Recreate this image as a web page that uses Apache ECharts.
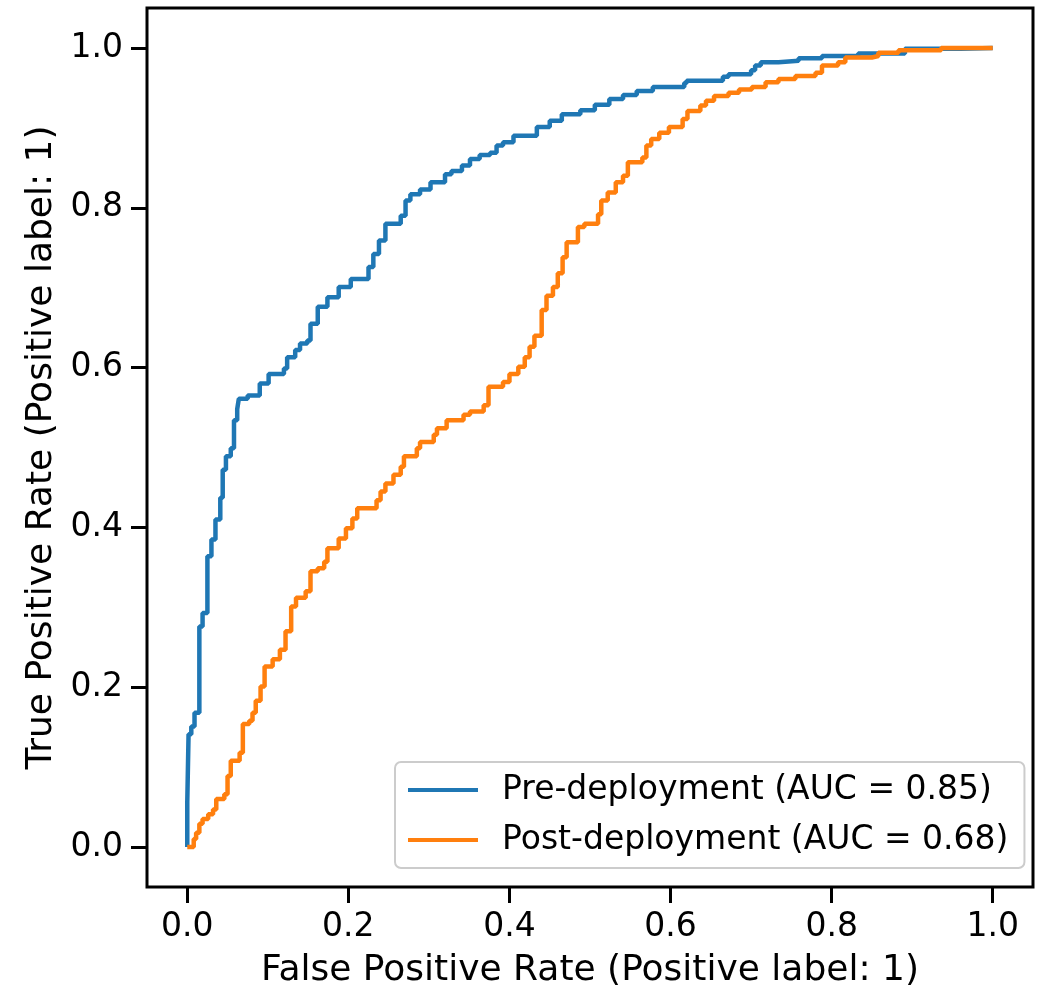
<!DOCTYPE html>
<html>
<head>
<meta charset="utf-8">
<script src="https://cdn.jsdelivr.net/npm/echarts@6/dist/echarts.min.js"></script>
<style>
  html, body { margin: 0; padding: 0; background: #fff; }
  #main { width: 1051px; height: 989px; }
</style>
</head>
<body>
<div id="main"></div>
<script>
// ROC curves: fpr where tpr steps up, and the tpr after the step
var preName = 'Pre-deployment (AUC = 0.85)';
var postName = 'Post-deployment (AUC = 0.68)';

var preFpr = [0, 0, 0.0016, 0.005, 0.009, 0.015, 0.019, 0.025, 0.030, 0.035, 0.041, 0.044, 0.048, 0.054,
    0.058, 0.062, 0.064, 0.075, 0.090, 0.101, 0.120, 0.124, 0.134, 0.140, 0.149, 0.153, 0.162, 0.174,
    0.188, 0.203, 0.225, 0.231, 0.238, 0.246, 0.265, 0.271, 0.277, 0.289, 0.302, 0.320, 0.328, 0.341,
    0.351, 0.363, 0.376, 0.384, 0.392, 0.405, 0.434, 0.450, 0.465, 0.488, 0.506, 0.524, 0.541, 0.558,
    0.578, 0.617, 0.620, 0.665, 0.672, 0.700, 0.705, 0.712, 0.734, 0.759, 0.788, 0.833, 0.891, 0.960, 1.0];
var preTpr = [0, 0.056, 0.141, 0.151, 0.168, 0.276, 0.293, 0.364, 0.385, 0.410, 0.437, 0.472, 0.489, 0.499,
    0.534, 0.548, 0.561, 0.565, 0.580, 0.592, 0.599, 0.613, 0.622, 0.630, 0.634, 0.655, 0.676, 0.688,
    0.701, 0.711, 0.726, 0.742, 0.759, 0.780, 0.790, 0.809, 0.817, 0.823, 0.832, 0.842, 0.846, 0.853,
    0.861, 0.866, 0.869, 0.878, 0.882, 0.890, 0.901, 0.909, 0.917, 0.922, 0.929, 0.936, 0.941, 0.946,
    0.951, 0.956, 0.959, 0.964, 0.967, 0.972, 0.978, 0.982, 0.984, 0.987, 0.990, 0.993, 0.999, 1.0, 1.0];

var postFpr = [0, 0.008, 0.011, 0.015, 0.019, 0.026, 0.032, 0.036, 0.046, 0.050, 0.054, 0.065, 0.069, 0.077,
    0.081, 0.085, 0.091, 0.096, 0.106, 0.115, 0.122, 0.129, 0.135, 0.147, 0.153, 0.162, 0.170, 0.174,
    0.188, 0.197, 0.205, 0.211, 0.235, 0.240, 0.246, 0.256, 0.265, 0.269, 0.285, 0.289, 0.306, 0.310,
    0.322, 0.343, 0.351, 0.368, 0.374, 0.392, 0.400, 0.411, 0.419, 0.425, 0.431, 0.440, 0.446, 0.454,
    0.460, 0.466, 0.471, 0.485, 0.493, 0.510, 0.514, 0.522, 0.532, 0.541, 0.547, 0.565, 0.570, 0.576,
    0.586, 0.598, 0.615, 0.621, 0.637, 0.644, 0.654, 0.672, 0.685, 0.701, 0.718, 0.734, 0.755, 0.780,
    0.788, 0.808, 0.817, 0.850, 0.858, 0.883, 0.936, 1.0];
var postTpr = [0, 0.010, 0.018, 0.029, 0.035, 0.041, 0.047, 0.060, 0.066, 0.089, 0.108, 0.118, 0.154, 0.158,
    0.168, 0.183, 0.201, 0.226, 0.235, 0.247, 0.270, 0.301, 0.312, 0.320, 0.345, 0.349, 0.357, 0.374,
    0.386, 0.399, 0.411, 0.424, 0.434, 0.445, 0.455, 0.466, 0.476, 0.489, 0.499, 0.507, 0.516, 0.524,
    0.534, 0.541, 0.545, 0.553, 0.576, 0.582, 0.592, 0.601, 0.613, 0.626, 0.640, 0.672, 0.690, 0.701,
    0.718, 0.738, 0.757, 0.776, 0.780, 0.792, 0.809, 0.819, 0.832, 0.840, 0.857, 0.863, 0.878, 0.886,
    0.894, 0.901, 0.911, 0.921, 0.928, 0.934, 0.940, 0.944, 0.948, 0.951, 0.957, 0.961, 0.965, 0.969,
    0.978, 0.982, 0.988, 0.990, 0.994, 0.997, 1.0, 1.0];

var tickValues = [0, 0.2, 0.4, 0.6, 0.8, 1.0];

function zip(xs, ys) {
    return xs.map(function (x, i) { return [x, ys[i]]; });
}

var font = 'DejaVu Sans';
var chart = echarts.init(document.getElementById('main'), null, { renderer: 'canvas' });

function makeAxis(name, gap) {
    return {
        type: 'value',
        min: -0.05,
        max: 1.05,
        name: name,
        nameLocation: 'middle',
        nameGap: gap,
        nameTextStyle: { fontFamily: font, fontSize: 36, color: '#000' },
        axisLine: { show: false, onZero: false },
        splitLine: { show: false },
        axisTick: {
            show: true,
            customValues: tickValues,
            length: 16,
            lineStyle: { color: '#000', width: 3 }
        },
        axisLabel: {
            customValues: tickValues,
            margin: 24,
            fontFamily: font,
            fontSize: 33,
            color: '#000',
            formatter: function (v) { return v.toFixed(1); }
        }
    };
}

var option = {
    animation: false,
    backgroundColor: '#fff',
    grid: {
        left: 147, top: 8, width: 886, height: 879,
        outerBoundsMode: 'none',
        show: true, borderColor: '#000', borderWidth: 3, backgroundColor: 'transparent'
    },
    xAxis: makeAxis('False Positive Rate (Positive label: 1)', 66),
    yAxis: makeAxis('True Positive Rate (Positive label: 1)', 79),
    legend: {
        orient: 'vertical',
        left: 395,
        top: 762,
        itemWidth: 70,
        itemHeight: 4,
        itemGap: 14,
        padding: [10, 16, 10, 13],
        backgroundColor: 'rgba(255,255,255,0.8)',
        borderColor: '#cccccc',
        borderWidth: 2,
        borderRadius: 6,
        textStyle: { fontFamily: font, fontSize: 33, color: '#000', lineHeight: 36, padding: [0, 0, 0, 19] },
        data: [{ name: preName, icon: 'rect' }, { name: postName, icon: 'rect' }]
    },
    series: [
        {
            name: preName,
            type: 'line',
            step: 'end',
            showSymbol: false,
            symbol: 'none',
            color: '#1f77b4',
            lineStyle: { width: 4.5, color: '#1f77b4' },
            data: zip(preFpr, preTpr)
        },
        {
            name: postName,
            type: 'line',
            step: 'end',
            showSymbol: false,
            symbol: 'none',
            color: '#ff7f0e',
            lineStyle: { width: 4.5, color: '#ff7f0e' },
            data: zip(postFpr, postTpr)
        }
    ]
};

chart.setOption(option);
</script>
</body>
</html>
